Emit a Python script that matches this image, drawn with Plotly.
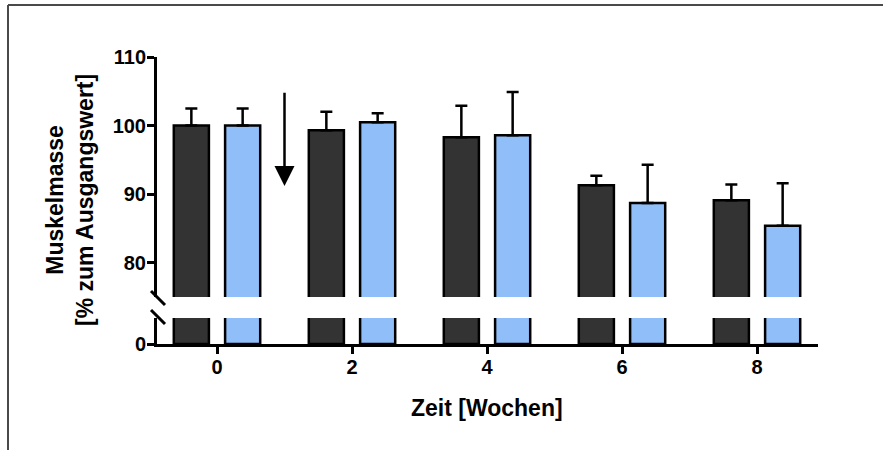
import plotly.graph_objects as go

weeks = [0, 2, 4, 6, 8]
dark_means = [100.0, 99.3, 98.3, 91.3, 89.1]
dark_err = [2.5, 2.7, 4.6, 1.4, 2.3]
blue_means = [100.0, 100.5, 98.6, 88.7, 85.4]
blue_err = [2.5, 1.3, 6.3, 5.6, 6.2]
y_upper_ticks = [80, 90, 100, 110]
y_lower_ticks = [0]
x_ticks = [0, 2, 4, 6, 8]

DARK = "#333333"
BLUE = "#90BEF8"
FONT = "Liberation Sans, Arial, sans-serif"

W, H = 883, 450
L, R, T, B = 157, 818, 57, 344  # plot area in px

def px_x(p):
    return (p - L) / (R - L)

def px_y(p):
    return (B - p) / (B - T)

fig = go.Figure()

bar_w = 0.52
dark_off = -0.64
blue_off = 0.12

for yax, with_err in (("y", False), ("y2", True)):
    fig.add_trace(go.Bar(
        x=weeks, y=dark_means, width=bar_w, offset=dark_off,
        marker=dict(color=DARK, line=dict(color="black", width=2.5)),
        error_y=dict(type="data", symmetric=False, array=dark_err,
                     arrayminus=[0] * len(dark_err), color="black",
                     thickness=2.5, width=6, visible=with_err),
        yaxis=yax, showlegend=False, hoverinfo="skip",
    ))
    fig.add_trace(go.Bar(
        x=weeks, y=blue_means, width=bar_w, offset=blue_off,
        marker=dict(color=BLUE, line=dict(color="black", width=2.5)),
        error_y=dict(type="data", symmetric=False, array=blue_err,
                     arrayminus=[0] * len(blue_err), color="black",
                     thickness=2.5, width=6, visible=with_err),
        yaxis=yax, showlegend=False, hoverinfo="skip",
    ))

tickfont = dict(family=FONT, size=20, color="black", weight="bold")

fig.update_layout(
    width=W, height=H, autosize=False,
    margin=dict(l=L, r=W - R, t=T, b=H - B),
    paper_bgcolor="white", plot_bgcolor="white",
    barmode="overlay",
    xaxis=dict(
        range=[(L - 217) / 67.5, (R - 217) / 67.5],
        tickvals=x_ticks, ticks="outside", ticklen=7, tickwidth=2.5,
        tickcolor="black", showline=True, linecolor="black", linewidth=3,
        showgrid=False, zeroline=False, tickfont=tickfont, anchor="y",
        ticklabelstandoff=-4,
    ),
    yaxis=dict(
        domain=[0, (B - 318) / (B - T)], range=[0, 4],
        tickvals=y_lower_ticks, ticks="outside", ticklen=7, tickwidth=2.5,
        tickcolor="black", showline=True, linecolor="black", linewidth=3,
        showgrid=False, zeroline=False, tickfont=tickfont, anchor="x",
        ticklabelstandoff=-3,
    ),
    yaxis2=dict(
        domain=[(B - 297) / (B - T), 1], range=[75, 110],
        tickvals=y_upper_ticks, ticks="outside", ticklen=7, tickwidth=2.5,
        tickcolor="black", showline=True, linecolor="black", linewidth=3,
        showgrid=False, zeroline=False, tickfont=tickfont, anchor="x",
        ticklabelstandoff=-3,
    ),
)

# axis break marks
for (x0, y0, x1, y1) in [(151, 291, 165, 305), (151, 310, 165, 324)]:
    fig.add_shape(type="line", xref="paper", yref="paper",
                  x0=px_x(x0), y0=px_y(y0), x1=px_x(x1), y1=px_y(y1),
                  line=dict(color="black", width=3))

# outer frame (top and left edges)
fig.add_shape(type="line", xref="paper", yref="paper",
              x0=px_x(8), y0=px_y(5), x1=px_x(883), y1=px_y(5),
              line=dict(color="#4a4a4a", width=2))
fig.add_shape(type="line", xref="paper", yref="paper",
              x0=px_x(8), y0=px_y(5), x1=px_x(8), y1=px_y(450),
              line=dict(color="#4a4a4a", width=2))

# arrow marking intervention
fig.add_annotation(x=1, y=91.2, xref="x", yref="y2",
                   ax=1, ay=105, axref="x", ayref="y2",
                   text="", showarrow=True, arrowhead=2, arrowsize=1.6,
                   arrowwidth=2.5, arrowcolor="black")

titlefont = dict(family=FONT, size=23, color="black", weight="bold")
fig.add_annotation(x=px_x(70), y=px_y(200), xref="paper", yref="paper",
                   text="Muskelmasse<br>[% zum Ausgangswert]", textangle=-90,
                   showarrow=False, xanchor="center", yanchor="middle",
                   font=titlefont)
fig.add_annotation(x=px_x(487), y=px_y(408), xref="paper", yref="paper",
                   text="Zeit [Wochen]", showarrow=False,
                   xanchor="center", yanchor="middle", font=titlefont)

fig.write_html("out.html", config={"displayModeBar": False},
               post_script="document.body.style.margin='0';document.body.style.overflow='hidden';")
